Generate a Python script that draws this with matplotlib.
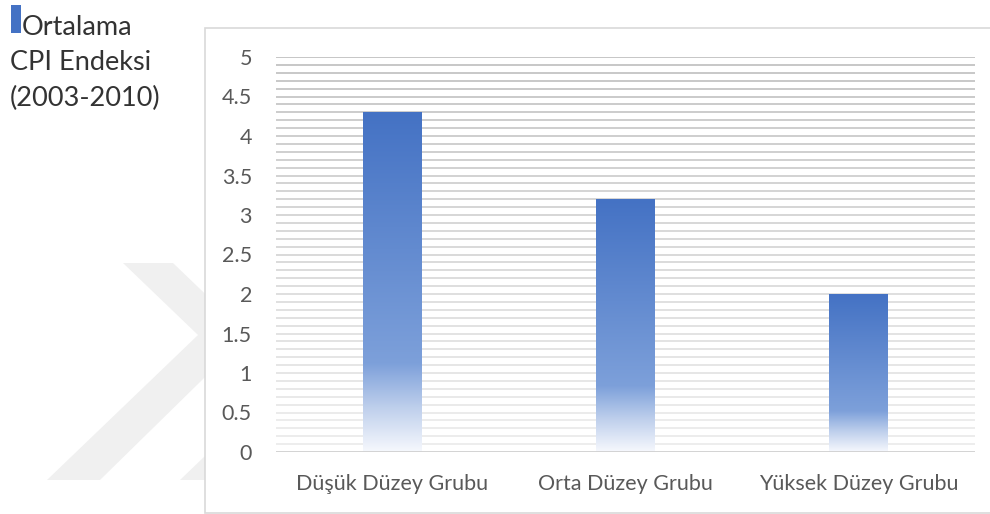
import numpy as np
import matplotlib
matplotlib.use("Agg")
import matplotlib.pyplot as plt
from matplotlib.colors import LinearSegmentedColormap
from matplotlib.patches import Rectangle, Polygon

plt.rcParams['font.family'] = ['Lato', 'DejaVu Sans']

# data
categories = ['Düşük Düzey Grubu', 'Orta Düzey Grubu', 'Yüksek Düzey Grubu']
values = [4.3, 3.2, 2.0]
series_name = 'Ortalama\nCPI Endeksi\n(2003-2010)'
yticks = [0, 0.5, 1, 1.5, 2, 2.5, 3, 3.5, 4, 4.5, 5]
ytick_labels = ['0', '0.5', '1', '1.5', '2', '2.5', '3', '3.5', '4', '4.5', '5']

W, H = 990, 514
fig = plt.figure(figsize=(W / 100, H / 100), dpi=100)

def px(x, y):
    # pixel (from top-left) -> figure fraction
    return x / W, 1 - y / H

# faint watermark chevrons behind the chart
for off in [0, 133]:
    pts = [(123 + off, 263), (173 + off, 263), (248 + off, 335), (100 + off, 480),
           (47 + off, 480), (198 + off, 335)]
    fig.patches.append(Polygon([px(*p) for p in pts], closed=True, transform=fig.transFigure,
                               facecolor='#f0f0f0', edgecolor='none', zorder=0))

# chart frame
x0, y0 = px(205, 513)
x1, y1 = px(1000, 28)
fig.patches.append(Rectangle((x0, y0), x1 - x0, y1 - y0, transform=fig.transFigure,
                             facecolor='white', edgecolor='#d9d9d9', linewidth=1.2, zorder=1))

left, bottom = px(275.5, 452)
right, top = px(975, 57)
ax = fig.add_axes([left, bottom, right - left, top - bottom], zorder=2)
ax.patch.set_alpha(0)

# minor gridlines every 0.1, fading lighter towards the bottom
grid_vals = np.round(np.arange(0.1, 5.01, 0.1), 2)
for g in grid_vals:
    t = g / 5.0
    c = 0.93 - 0.17 * t
    ax.axhline(g, color=(c, c, c), linewidth=1.3, zorder=1)
ax.axhline(0, color='#d0d0d0', linewidth=1.3, zorder=4)

xs = np.arange(len(categories))
bars = ax.bar(xs, values, width=0.253, color='none', edgecolor='none', zorder=3)

cmap = LinearSegmentedColormap.from_list('bar_grad', [
    (0.0, (68 / 255, 114 / 255, 196 / 255)),
    (0.74, (125 / 255, 160 / 255, 218 / 255)),
    (0.87, (190 / 255, 207 / 255, 236 / 255)),
    (1.0, (246 / 255, 248 / 255, 253 / 255)),
])
grad = np.linspace(0, 1, 256).reshape(-1, 1)
for b in bars:
    bx, by = b.get_x(), b.get_y()
    bw, bh = b.get_width(), b.get_height()
    im = ax.imshow(grad, cmap=cmap, extent=(bx, bx + bw, by, by + bh),
                   aspect='auto', origin='upper', zorder=3, interpolation='bilinear')
    im.set_clip_path(b)

ax.set_xlim(-0.5, 2.5)
ax.set_ylim(0, 5)
ax.set_yticks(yticks)
ax.set_yticklabels(ytick_labels)
ax.set_xticks(xs)
ax.set_xticklabels(categories)
ax.tick_params(axis='y', length=0, pad=17, labelsize=15.5, labelcolor='#595959')
ax.tick_params(axis='x', length=0, pad=16, labelsize=15.5, labelcolor='#595959')
for s in ax.spines.values():
    s.set_visible(False)

# legend (top-left)
lx, ly = px(11, 33)
lx2, ly2 = px(21, 5)
fig.patches.append(Rectangle((lx, ly), lx2 - lx, ly2 - ly, transform=fig.transFigure,
                             facecolor='#4472C4', edgecolor='none', zorder=3))
for i, line in enumerate(series_name.split('\n')):
    tx, ty = px(22 if i == 0 else 10, 35 + i * 35.5)
    fig.text(tx, ty, line, fontsize=19.5, color='#333333', va='baseline', ha='left', zorder=4)

fig.savefig('out.png', dpi=100)
